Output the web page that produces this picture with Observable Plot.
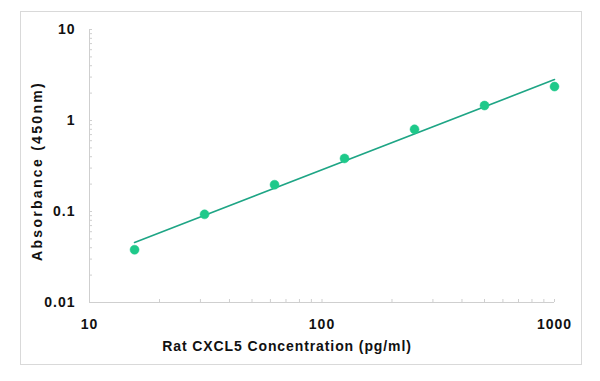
<!DOCTYPE html>
<html>
<head>
<meta charset="utf-8">
<script src="https://cdn.jsdelivr.net/npm/d3@7"></script>
<script src="https://cdn.jsdelivr.net/npm/@observablehq/plot@0.6"></script>
<style>
  html, body { margin: 0; padding: 0; background: #fff; }
  #wrap { position: relative; width: 600px; height: 381px; }
  #box { position: absolute; left: 20px; top: 11px; width: 562px; height: 354px; border: 1px solid #d9d9d9; box-sizing: border-box; pointer-events: none; }
  svg text { letter-spacing: 1px; }
  svg .ylab text { letter-spacing: 2.3px; }
  svg .xlab text { letter-spacing: 0.9px; }
</style>
</head>
<body>
<div id="wrap"><div id="box"></div></div>
<script>
// Standard curve data
const concentrations = [15.625, 31.25, 62.5, 125, 250, 500, 1000];
const absorbance = [0.038, 0.093, 0.197, 0.383, 0.80, 1.46, 2.36];
// Fitted (power) line endpoints
const fitX = [15.625, 1000];
const fitY = [0.0457, 2.82];
// Axis ticks
const xTicks = [10, 100, 1000];
const yTicks = [0.01, 0.1, 1, 10];
const xLabel = "Rat CXCL5 Concentration (pg/ml)";
const yLabel = "Absorbance (450nm)";

const points = concentrations.map((c, i) => ({x: c, y: absorbance[i]}));
const fit = fitX.map((x, i) => ({x, y: fitY[i]}));
const xMinor = [];
for (const d of [10, 100]) for (let k = 2; k <= 9; k++) xMinor.push(d * k);
const yMinor = [];
for (const d of [0.01, 0.1, 1]) for (let k = 2; k <= 9; k++) yMinor.push(d * k);

const font = "'Liberation Sans', Arial, sans-serif";
const chart = Plot.plot({
  width: 600,
  height: 381,
  marginLeft: 89,
  marginRight: 46,
  marginTop: 29,
  marginBottom: 79,
  style: {fontFamily: font, fontSize: "14px", fontWeight: "bold", color: "#111", background: "transparent"},
  x: {type: "log", domain: [10, 1000]},
  y: {type: "log", domain: [0.01, 10]},
  marks: [
    Plot.ruleX([10], {stroke: "#cfcfcf", strokeWidth: 1}),
    Plot.ruleY([0.01], {stroke: "#cfcfcf", strokeWidth: 1}),
    Plot.axisY({ticks: yTicks, tickSize: 0, tickPadding: 14, tickFormat: d => String(d), label: null, fontWeight: "bold", fontSize: 14}),
    Plot.axisX({ticks: xTicks, tickSize: 0, tickPadding: 17, tickFormat: d => String(d), label: null, fontWeight: "bold", fontSize: 14}),
    Plot.axisY({ticks: yMinor.concat([0.1, 1, 10]), tickSize: 3, anchor: "left", text: null, stroke: "#cfcfcf", label: null, dx: 3}),
    Plot.axisX({ticks: xMinor.concat([100, 1000]), tickSize: 3, anchor: "bottom", text: null, stroke: "#cfcfcf", label: null, dy: -3}),
    Plot.line(fit, {x: "x", y: "y", stroke: "#1ea585", strokeWidth: 1.6}),
    Plot.dot(points, {x: "x", y: "y", r: 4.5, fill: "#1ec98a", stroke: "#1ec98a", strokeWidth: 0.5}),
    Plot.text([xLabel], {frameAnchor: "bottom", dx: -35, dy: 48, text: d => d, fontWeight: "bold", fontSize: 14, fill: "#111", className: "xlab"}),
    Plot.text([yLabel], {frameAnchor: "left", textAnchor: "middle", dx: -52, dy: 5, rotate: -90, text: d => d, fontWeight: "bold", fontSize: 14, fill: "#111", className: "ylab"})
  ]
});
document.getElementById("wrap").prepend(chart);
chart.style.position = "absolute";
chart.style.left = "0";
chart.style.top = "0";
</script>
</body>
</html>
